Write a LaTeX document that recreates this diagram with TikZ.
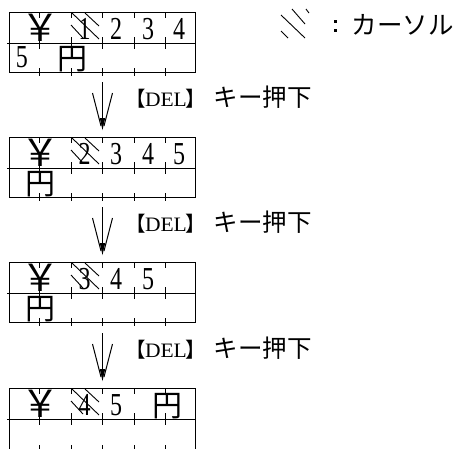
\documentclass[tikz,border=0pt]{standalone}
\usepackage{fontspec}
\newfontfamily\jp{Noto Sans CJK JP}
\newfontfamily\ser{Liberation Serif}
\newcommand{\gridbox}[2]{%
  \draw (9,#1) -- (195,#1) -- (195,#2) -- (9,#2) -- cycle;
  \draw (7,#1+31) -- (195,#1+31);
  \foreach \xx in {39.5,71,102.5,134,165.5}{
    \draw (\xx,#1) -- (\xx,#1+6);
    \draw (\xx,#1+25) -- (\xx,#1+37);
    \draw (\xx,#2-4) -- (\xx,#2+4);
  }}
\newcommand{\cursormark}[2]{%
  \draw[cur] (#1+1,#2+1) -- (#1+28,#2+27);
  \draw[cur] (#1,#2+13) -- (#1+12,#2+26);
  \draw[cur] (#1+14,#2+1) -- (#1+28,#2+14);}
\newcommand{\digitat}[3]{\node[dig] at (#1,#2) {\scalebox{0.75}[1]{#3}};}
\newcommand{\delarrow}[2]{%
  \coordinate (#1s) at (102.5,#2-48);
  \coordinate (#1e) at (102.5,#2-8);
  \coordinate (#1l) at (92.5,#2-37);
  \coordinate (#1r) at (112.5,#2-37);
  \coordinate (#1lb) at (101,#2-4);
  \coordinate (#1rb) at (104,#2-4);
  \coordinate (#1t) at (102.5,#2);
  \coordinate (#1tl) at (99.8,#2-12);
  \coordinate (#1tr) at (105.2,#2-12);
  \draw (#1s) -- (#1e);
  \draw (#1l) -- (#1lb);
  \draw (#1r) -- (#1rb);
  \fill (#1tl) -- (#1tr) -- (#1t) -- cycle;
  \node[lab] (#1del) at (125,#2-24) {{\jp【}\hspace{-1pt}{\ser\scalebox{1.05}[1]{DEL}}\hspace{-1pt}{\jp】}};
  \node[lab] (#1txt) at (213,#2-24) {\jp\fontsize{24.5}{24.5}\selectfont キー押下};}
\begin{document}
\begin{tikzpicture}[x=1pt,y=-1pt,line width=1pt,
  dig/.style={font=\ser\fontsize{32}{32}\selectfont, inner sep=0, anchor=base},
  lab/.style={font=\fontsize{20.5}{20.5}\selectfont, inner sep=0, anchor=base west},
  big/.style={font=\jp\fontsize{30}{30}\selectfont, inner sep=0, anchor=base, text height=23pt, text depth=0pt},
  yen/.style={font=\jp\fontsize{38}{38}\selectfont, inner sep=0, anchor=base, text height=27pt, text depth=0pt},
  cur/.style={line width=0.9pt}]
\useasboundingbox (0,0) rectangle (453,448);
\clip (0,0) rectangle (453,448);
% legend
\draw[cur] (292,9) -- (305,24);
\draw[cur] (306,9) -- (309,13);
\draw[cur] (281,15) -- (305,38);
\draw[cur] (281,31) -- (288,38);
\fill (334,20) rectangle (337,23);
\fill (334,29) rectangle (337,32);
\node[lab] (legend) at (351,34) {\jp\fontsize{25.5}{25.5}\selectfont カーソル};
% box 1
\gridbox{12}{72}
\node[yen] (y1) at (40,41) {￥};
\cursormark{71}{12}
\digitat{84.5}{39}{1}
\digitat{116}{39}{2}
\digitat{148}{39}{3}
\digitat{179}{39}{4}
\digitat{22}{67}{5}
\node[big] (e1) at (72,69.4) {円};
\delarrow{a}{130}
% box 2
\gridbox{137}{197}
\node[yen] (y2) at (40,166) {￥};
\cursormark{71}{137}
\digitat{84.5}{164}{2}
\digitat{116}{164}{3}
\digitat{148}{164}{4}
\digitat{179}{164}{5}
\node[big] (e2) at (40,194.4) {円};
\delarrow{b}{255}
% box 3
\gridbox{262}{322}
\node[yen] (y3) at (40,291) {￥};
\cursormark{71}{262}
\digitat{84.5}{289}{3}
\digitat{116}{289}{4}
\digitat{148}{289}{5}
\node[big] (e3) at (40,319.4) {円};
\delarrow{c}{381}
% box 4
\gridbox{388}{449}
\node[yen] (y4) at (40,417) {￥};
\cursormark{71}{388}
\digitat{84.5}{415}{4}
\digitat{116}{415}{5}
\node[big] (e4) at (167,416.4) {円};
\end{tikzpicture}
\end{document}
